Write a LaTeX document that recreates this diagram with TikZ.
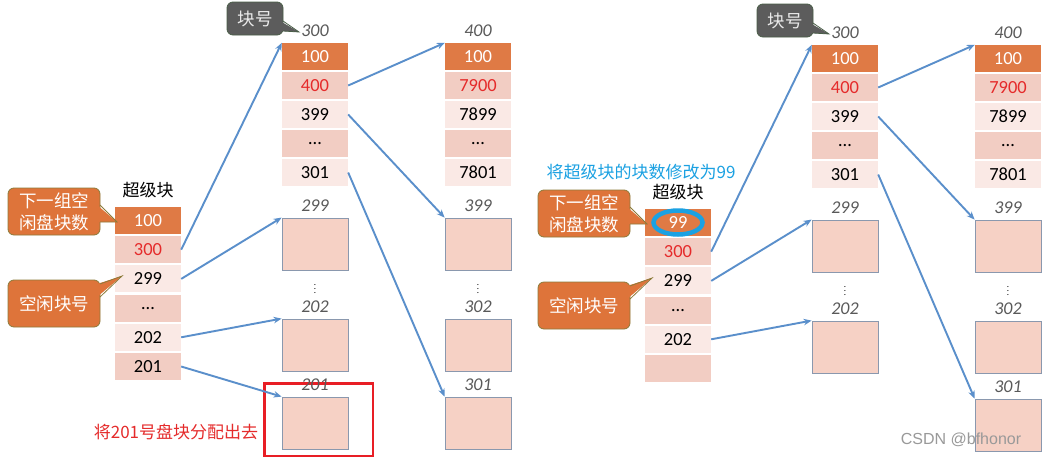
\documentclass[tikz,border=0pt]{standalone}
\usepackage{fontspec}
\setmainfont{Carlito}
\newfontfamily\cjk{Noto Sans CJK SC}
\newfontfamily\wmf{Liberation Sans}
\usetikzlibrary{arrows.meta}
\definecolor{hdrc}{HTML}{DF7A45}
\definecolor{dkc}{HTML}{F2CDC3}
\definecolor{ltc}{HTML}{FAE9E5}
\definecolor{blkf}{HTML}{F6D1C5}
\definecolor{blkb}{HTML}{8A98AE}
\definecolor{arrc}{HTML}{5A8FCB}
\definecolor{labc}{HTML}{595959}
\definecolor{redc}{HTML}{E52B2B}
\definecolor{rectc}{HTML}{E81E25}
\definecolor{bluec}{HTML}{1BA1E2}
\definecolor{orc}{HTML}{DE743A}
\definecolor{orb}{HTML}{8C7B3A}
\definecolor{gyc}{HTML}{5C5C5C}
\definecolor{gyb}{HTML}{4A5E48}
\tikzset{
 cell/.style={minimum width=66pt, minimum height=27pt, inner sep=0pt, font=\fontsize{18.5}{20}\selectfont, text=black},
 hdr/.style={cell, fill=hdrc, text=white},
 dk/.style={cell, fill=dkc},
 lt/.style={cell, fill=ltc},
 blk/.style={draw=blkb, line width=0.8pt, fill=blkf, minimum width=66pt, minimum height=52pt, inner sep=0pt},
 lab/.style={text=labc, font=\fontsize{18}{20}\selectfont\itshape, inner sep=0pt},
 cjklab/.style={font=\cjk\fontsize{17}{20}\selectfont, inner sep=0pt},
 vd/.style={font=\fontsize{9}{10}\selectfont, inner sep=0pt},
 arr/.style={draw=arrc, line width=1.9pt, -{Stealth[length=8pt,width=6.5pt]}},
 co/.style={fill=orc, draw=orb, line width=0.8pt, rounded corners=6pt, text=white, font=\cjk\fontsize{17.5}{22}\selectfont, align=center, inner sep=0pt},
 cg/.style={fill=gyc, draw=gyb, line width=0.8pt, rounded corners=6pt, text=white!92!black, font=\cjk\fontsize{17.5}{20}\selectfont, inner sep=0pt},
}
\newcommand\drawhalf[3]{%
 \node[cjklab] (#1sl) at (148,190) {超级块};
 \node[hdr] (#1s0) at (148,220.5) {#2};
 \node[dk] (#1s1) at (148,249.7) {\textcolor{redc}{300}};
 \node[lt] (#1s2) at (148,278.9) {299};
 \node[dk] (#1s3) at (148,308.1) {…};
 \node[lt] (#1s4) at (148,337.3) {202};
 \node[dk] (#1s5) at (148,366.5) {#3};
 \node[lab] (#1al) at (315,31) {300};
 \node[hdr] (#1a0) at (315,56.5) {100};
 \node[dk] (#1a1) at (315,85.5) {\textcolor{redc}{400}};
 \node[lt] (#1a2) at (315,114.5) {399};
 \node[dk] (#1a3) at (315,143.5) {…};
 \node[lt] (#1a4) at (315,172.5) {301};
 \node[lab] (#1bl) at (478,31) {400};
 \node[hdr] (#1b0) at (478,56.5) {100};
 \node[dk] (#1b1) at (478,85.5) {\textcolor{redc}{7900}};
 \node[lt] (#1b2) at (478,114.5) {7899};
 \node[dk] (#1b3) at (478,143.5) {…};
 \node[lt] (#1b4) at (478,172.5) {7801};
 \node[blk] (#1x299) at (315,244) {};
 \node[lab] (#1x299l) at (315,206) {299};
 \node[vd] (#1xd1) at (315,286) {$\vdots$};
 \node[blk] (#1x202) at (315,345) {};
 \node[lab] (#1x202l) at (315,307) {202};
 \node[blk] (#1x399) at (478,244) {};
 \node[lab] (#1x399l) at (478,206) {399};
 \node[vd] (#1xd2) at (478,286) {$\vdots$};
 \node[blk] (#1x302) at (478,345) {};
 \node[lab] (#1x302l) at (478,307) {302};
 \node[blk] (#1x301) at (478,423) {};
 \node[lab] (#1x301l) at (478,385) {301};
 \node[co, minimum width=92pt, minimum height=47pt] (#1c1) at (54,211.5) {下一组空\\闲盘块数};
 \fill[orc] (97,205) -- (117,222) -- (97,222) -- cycle;
 \draw[orb, line width=0.8pt] (100,205) -- (117,222) -- (100,222);
 \node[co, minimum width=92pt, minimum height=47pt] (#1c2) at (54,303.5) {空闲块号};
 \fill[orc] (97,284) -- (122,276) -- (97,297) -- cycle;
 \draw[orb, line width=0.8pt] (100,284) -- (122,276) -- (100,297);
 \node[cg, minimum width=56pt, minimum height=33pt] (#1c3) at (255,18.5) {块号};
 \fill[gyc] (280,21) -- (299,32) -- (280,31) -- cycle;
 \draw[gyb, line width=0.8pt] (283,21) -- (299,32) -- (283,31);
 \draw[arr] (#1s1.east) -- (#1a0.north west);
 \draw[arr] (#1s2.east) -- (#1x299.north west);
 \draw[arr] (#1s4.east) -- (#1x202.north west);
 \draw[arr] (#1a1.east) -- (#1b0.north west);
 \draw[arr] (#1a2.east) -- (#1x399.north west);
 \draw[arr] (#1a4.east) -- (#1x301.north west);
}
\begin{document}
\begin{tikzpicture}[x=1pt,y=-1pt]
\useasboundingbox (0,0) rectangle (1046,458);
\fill[white] (0,0) rectangle (1046,458);
% left half
\drawhalf{L}{100}{201}
\node[blk] (Lx201) at (315,423) {};
\node[draw=rectc, line width=2.5pt, minimum width=108.5pt, minimum height=72.5pt, inner sep=0pt] (Lred) at (318.5,419.5) {};
\node[lab] (Lx201l) at (315,385) {201};
\draw[arr] (Ls5.east) -- (Lx201.north west);
\node[cjklab, text=redc] (rt) at (176,432) {将201号盘块分配出去};
% right half
\begin{scope}[shift={(530,2)}]
\drawhalf{R}{99}{}
\end{scope}
\draw[bluec, line width=4.5pt] (Rs0.center) ellipse [x radius=24.5pt, y radius=12pt];
\node[cjklab, text=bluec] (bt) at (641,172) {将超级块的块数修改为99};
\node[font=\wmf\fontsize{16}{18}\selectfont, text=gray!80, inner sep=0pt] (wm) at (961,440) {CSDN @bfhonor};
\end{tikzpicture}
\end{document}
